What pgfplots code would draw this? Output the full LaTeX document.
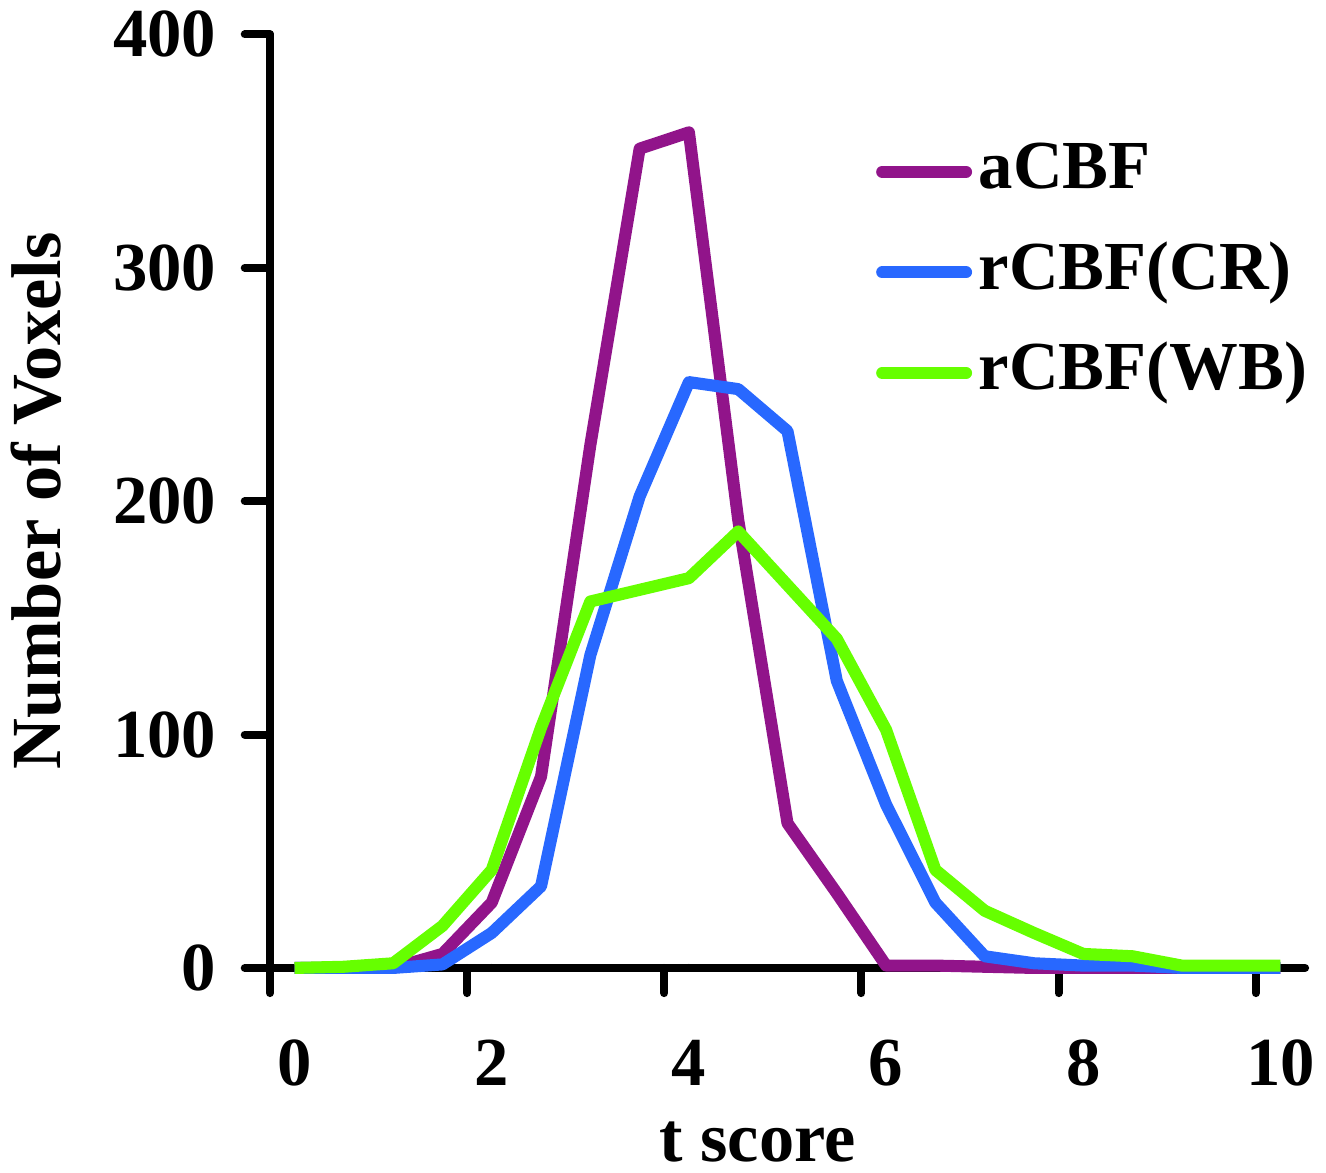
\documentclass[border=0pt]{standalone}
\usepackage{fontspec}
\setmainfont{Liberation Serif}
\usepackage{pgfplots}
\pgfplotsset{compat=1.18}
\definecolor{cpurple}{RGB}{145,20,138}
\definecolor{cblue}{RGB}{40,104,255}
\definecolor{cgreen}{RGB}{102,255,0}
\newcommand{\bigbf}{\fontsize{20.5}{24}\selectfont\bfseries}
\newcommand{\labbf}{\fontsize{21}{25}\selectfont\bfseries}

\begin{document}
\begin{tikzpicture}
\begin{axis}[
  scale only axis,
  width=308.7pt, height=278.4pt,
  xmin=-0.25, xmax=10.25, ymin=0, ymax=400,
  axis lines*=left,
  axis line style={line width=2.4pt, line cap=round},
  tick align=outside,
  major tick length=7.5pt,
  tick style={line width=2.4pt, line cap=round, black},
  xtick={-0.25,1.75,3.75,5.75,7.75,9.75}, xticklabels={},
  extra x ticks={0,2,4,6,8,10},
  extra x tick labels={0,2,4,6,8,10},
  extra x tick style={major tick length=0pt, tick label style={yshift=-18pt}},
  ytick={0,100,200,300,400},
  tick label style={font=\bigbf},
  y tick label style={xshift=-5pt},
  /pgf/number format/assume math mode=true,
  xlabel={t score}, ylabel={Number of Voxels},
  x label style={at={(axis description cs:0.471,-0.186)}, anchor=center, font=\labbf},
  y label style={at={(axis description cs:-0.2255,0.5)}, rotate=0, anchor=center, font=\labbf},
  clip=false,
  legend cell align=left,
  legend style={draw=none, fill=none, font=\bigbf, inner sep=0pt,
    at={(axis description cs:0.585,0.893)}, anchor=north west,
    row sep=8pt,
    nodes={inner sep=2pt, text height=14pt, text depth=4pt}},
  legend image code/.code={\draw[#1, line width=3.6pt, line cap=round] (0pt,0pt) -- (25pt,0pt);},
  every axis plot/.append style={line width=3.6pt, line join=round},
]
\addplot[cpurple] coordinates {
  (0,0)(0.5,0)(1,0)(1.5,6)(2,28)(2.5,82)(3,224)(3.5,351)(4,358)(4.5,192)
  (5,62)(5.5,32)(6,1)(6.5,1)(7,0.5)(7.5,0)(8,0)(8.5,0)(9,0)(9.5,0)(10,0)};
\addlegendentry{aCBF}
\addplot[cblue] coordinates {
  (0,0)(0.5,0)(1,0)(1.5,1.5)(2,15)(2.5,35)(3,134)(3.5,202)(4,251)(4.5,248)
  (5,230)(5.5,123)(6,70)(6.5,28)(7,5)(7.5,2)(8,1)(8.5,1)(9,0)(9.5,0)(10,0)};
\addlegendentry{rCBF(CR)}
\addplot[cgreen] coordinates {
  (0,0)(0.5,0.5)(1,2)(1.5,18)(2,42)(2.5,103)(3,157)(3.5,162)(4,167)(4.5,187)
  (5,164)(5.5,141)(6,102)(6.5,42)(7,24.5)(7.5,15)(8,6)(8.5,5)(9,1)(9.5,1)(10,1)};
\addlegendentry{rCBF(WB)}
\end{axis}
\end{tikzpicture}
\end{document}
